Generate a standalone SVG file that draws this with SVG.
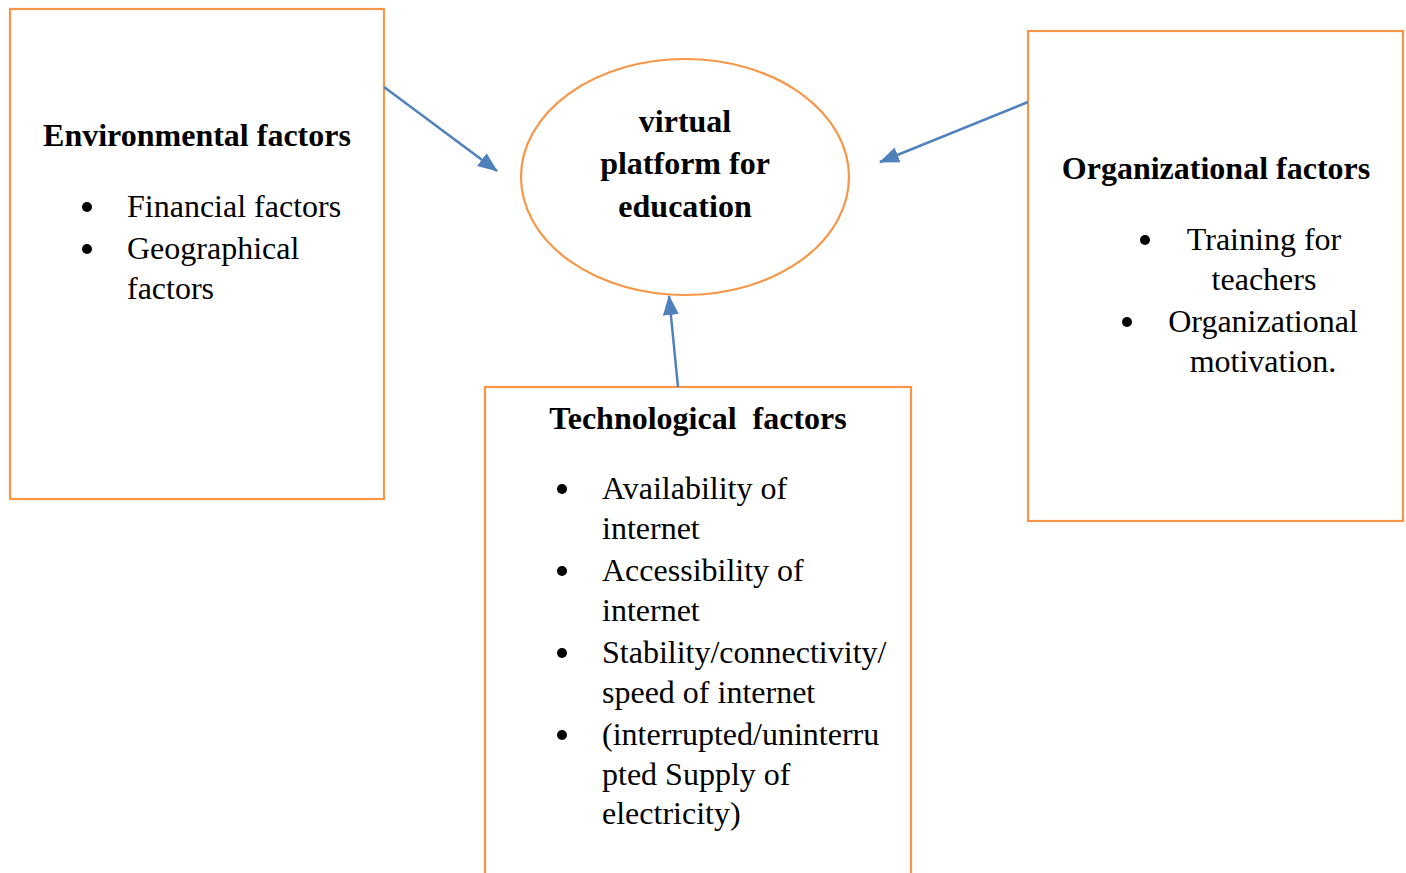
<svg xmlns="http://www.w3.org/2000/svg" width="1406" height="873" viewBox="0 0 1406 873">
<style>
.box{fill:#fff;stroke:#F79646;stroke-width:2.2}
.con{stroke:#4F81BD;stroke-width:2.5;fill:none}
.t{font-family:"Liberation Serif","Times New Roman",serif;font-size:32px;fill:#000}
.b{font-weight:bold}
.dot{fill:#000}
</style>
<defs>
<marker id="arrow" viewBox="0 0 20 16" refX="19" refY="8" markerWidth="20" markerHeight="16" orient="auto" markerUnits="userSpaceOnUse">
<path d="M0,0 L20,8 L0,16 Z" fill="#4F81BD"/>
</marker>
</defs>
<rect width="1406" height="873" fill="#fff"/>
<g id="env">
<rect class="box" x="10" y="9" width="374" height="490"/>
<text class="t b" x="197" y="146" text-anchor="middle">Environmental factors</text>
<circle class="dot" cx="87" cy="207" r="5"/>
<text class="t" x="127" y="217">Financial factors</text>
<circle class="dot" cx="87" cy="249" r="5"/>
<text class="t" x="127" y="259">Geographical</text>
<text class="t" x="127" y="299">factors</text>
</g>
<g id="platform">
<ellipse cx="685" cy="177" rx="164" ry="118" fill="#fff" stroke="#F79646" stroke-width="2.2"/>
<text class="t b" x="685" y="132" text-anchor="middle">virtual</text>
<text class="t b" x="685" y="174" text-anchor="middle">platform for</text>
<text class="t b" x="685" y="217" text-anchor="middle">education</text>
</g>
<g id="org">
<rect class="box" x="1028" y="31" width="375" height="490"/>
<text class="t b" x="1216" y="179" text-anchor="middle">Organizational factors</text>
<circle class="dot" cx="1145" cy="240" r="5"/>
<text class="t" x="1264" y="250" text-anchor="middle">Training for</text>
<text class="t" x="1264" y="290" text-anchor="middle">teachers</text>
<circle class="dot" cx="1127" cy="322" r="5"/>
<text class="t" x="1263" y="332" text-anchor="middle">Organizational</text>
<text class="t" x="1263" y="372" text-anchor="middle">motivation.</text>
</g>
<g id="tech">
<rect class="box" x="485" y="387" width="426" height="500"/>
<text class="t b" x="698" y="429" text-anchor="middle" xml:space="preserve">Technological  factors</text>
<circle class="dot" cx="562" cy="489" r="5"/>
<text class="t" x="602" y="499">Availability of</text>
<text class="t" x="602" y="539">internet</text>
<circle class="dot" cx="562" cy="571" r="5"/>
<text class="t" x="602" y="581">Accessibility of</text>
<text class="t" x="602" y="621">internet</text>
<circle class="dot" cx="562" cy="653" r="5"/>
<text class="t" x="602" y="663">Stability/connectivity/</text>
<text class="t" x="602" y="703">speed of internet</text>
<circle class="dot" cx="562" cy="735" r="5"/>
<text class="t" x="602" y="745">(interrupted/uninterru</text>
<text class="t" x="602" y="785">pted Supply of</text>
<text class="t" x="602" y="824">electricity)</text>
</g>
<g id="connectors">
<line class="con" x1="384" y1="87" x2="497" y2="171" marker-end="url(#arrow)"/>
<line class="con" x1="1028" y1="102" x2="880" y2="162" marker-end="url(#arrow)"/>
<line class="con" x1="678" y1="387" x2="669" y2="296" marker-end="url(#arrow)"/>
</g>
</svg>
